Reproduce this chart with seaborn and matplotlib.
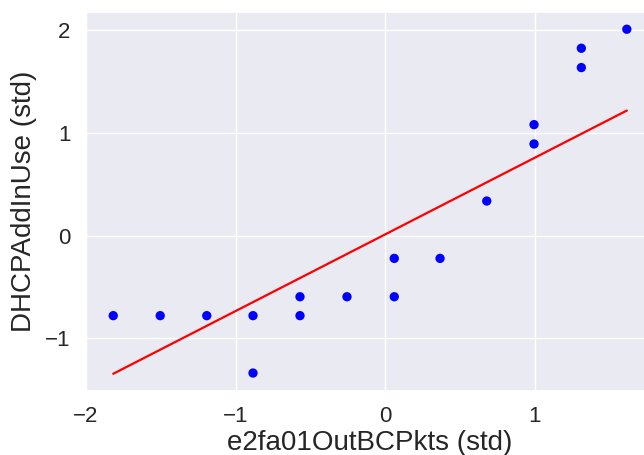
import numpy as np
import pandas as pd
import matplotlib
matplotlib.use("Agg")
import matplotlib.pyplot as plt
import seaborn as sns

# Standardized values of the two counters
x_std = [-1.818, -1.504, -1.193, -0.884, -0.884, -0.570, -0.570, -0.256,
         0.060, 0.060, 0.366, 0.678, 0.994, 0.994, 1.310, 1.310, 1.614]
y_std = [-0.778, -0.778, -0.778, -0.778, -1.336, -0.594, -0.778, -0.594,
         -0.221, -0.594, -0.221, 0.337, 0.892, 1.080, 1.635, 1.823, 2.008]

# Fitted line through the standardized data
fit_slope = 0.746
fit_intercept = 0.013

x_label = "e2fa01OutBCPkts (std)"
y_label = "DHCPAddInUse (std)"
x_ticks = [-2, -1, 0, 1]
y_ticks = [-1, 0, 1, 2]

sns.set_theme(style="darkgrid")
plt.rcParams["font.family"] = ["Liberation Sans", "DejaVu Sans"]

df = pd.DataFrame({"x": x_std, "y": y_std})
xs = np.array([min(x_std), max(x_std)])
line_df = pd.DataFrame({"x": xs, "y": fit_intercept + fit_slope * xs})

fig = plt.figure(figsize=(6.44, 4.55), dpi=100)
ax = fig.add_axes([86 / 644, (455 - 391) / 455, 566.5 / 644, 379 / 455])

sns.scatterplot(data=df, x="x", y="y", ax=ax, color="blue", s=45,
                edgecolor="none", zorder=3)
sns.lineplot(data=line_df, x="x", y="y", ax=ax, color="red", linewidth=1.6,
             zorder=2)

ax.set_xticks(x_ticks)
ax.set_yticks(y_ticks)
ax.tick_params(labelsize=16, colors="#262626", pad=5)
ax.set_xlabel(x_label, fontsize=20, color="#262626", labelpad=2)
ax.set_ylabel(y_label, fontsize=20, color="#262626", labelpad=6)

fig.savefig("out.png", dpi=100)
